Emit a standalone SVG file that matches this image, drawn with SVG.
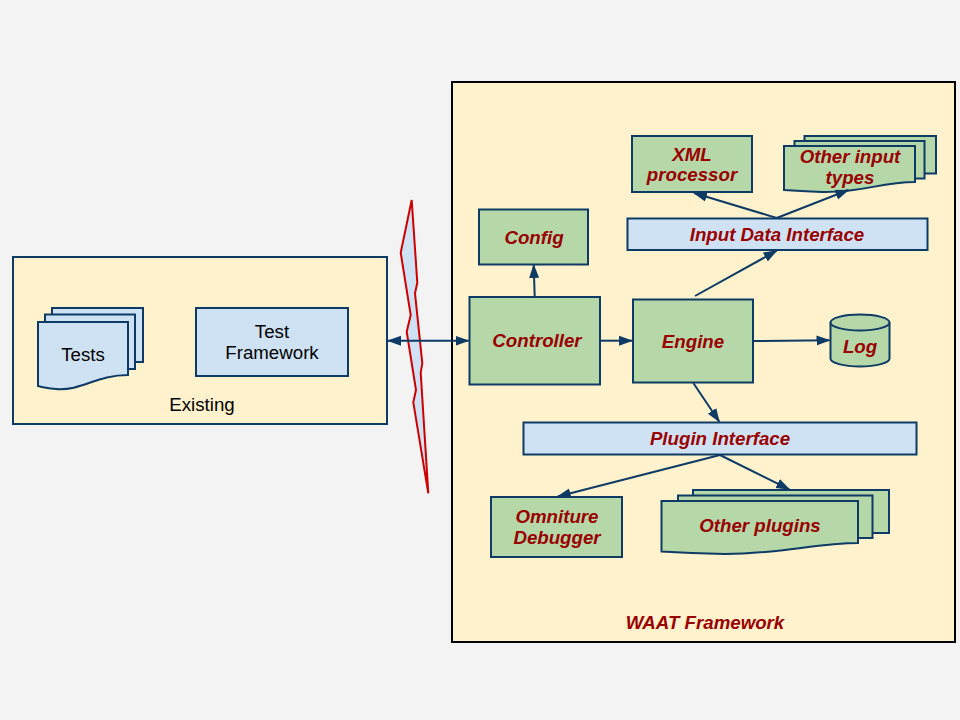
<svg xmlns="http://www.w3.org/2000/svg" width="960" height="720" viewBox="0 0 960 720">
<defs>
<style>
.box{stroke:#0d3b66;stroke-width:2}
.g{fill:#b6d7a8}
.b{fill:#cfe2f3}
.c{fill:#fff2cc}
.t{font-family:"Liberation Sans",Arial,sans-serif;font-size:18.7px;fill:#990000;font-weight:bold;font-style:italic;text-anchor:middle}
.n{font-family:"Liberation Sans",Arial,sans-serif;font-size:18.7px;fill:#000;text-anchor:middle}
.conn line{stroke:#0d3b66;stroke-width:2;fill:none}
</style>
<marker id="ah" markerUnits="userSpaceOnUse" markerWidth="14" markerHeight="12" viewBox="0 0 14 12" refX="13" refY="6" orient="auto-start-reverse">
<path d="M0,1 L14,6 L0,11 Z" fill="#0d3b66"/>
</marker>
</defs>
<rect width="960" height="720" fill="#f3f3f3"/>

<g id="existing">
<rect class="box c" x="13" y="257" width="374" height="167"/>
<text class="n" x="202" y="411">Existing</text>
</g>

<g id="tests">
<rect class="box b" x="52" y="308" width="91" height="54"/>
<rect class="box b" x="45" y="314.5" width="90" height="54.5"/>
<path class="box b" d="M38,322 H128 V375 C96,375 82,391 56,389 Q45,388 38,386 Z"/>
<text class="n" x="83" y="361">Tests</text>
</g>

<g id="test-framework">
<rect class="box b" x="196" y="308" width="152" height="68"/>
<text class="n" x="272" y="338">Test</text>
<text class="n" x="272" y="359">Framework</text>
</g>

<g id="lightning">
<polygon points="411.7,200 400.7,252.7 410.7,315 406.7,331.7 416,390 413.3,402.3 428.3,493.3 420.7,372.7 422.3,363.3 415,293.3 417.3,282.7" fill="#cfe2f3" stroke="#cc0000" stroke-width="2" stroke-linejoin="miter"/>
</g>

<g id="waat">
<rect x="452" y="82" width="503" height="560" fill="#fff2cc" stroke="#000" stroke-width="2"/>
<text class="t" x="705" y="629">WAAT Framework</text>
</g>

<g id="config">
<rect class="box g" x="479" y="209.5" width="109" height="55"/>
<text class="t" x="534" y="244">Config</text>
</g>

<g id="controller">
<rect class="box g" x="469.5" y="297" width="130.5" height="87.5"/>
<text class="t" x="537" y="347">Controller</text>
</g>

<g id="engine">
<rect class="box g" x="633" y="299.5" width="120" height="83"/>
<text class="t" x="693" y="348">Engine</text>
</g>

<g id="xml">
<rect class="box g" x="632" y="136" width="120" height="56"/>
<text class="t" x="692" y="161">XML</text>
<text class="t" x="692" y="181">processor</text>
</g>

<g id="input-data-interface">
<rect class="box b" x="627.5" y="218.5" width="300" height="31.5"/>
<text class="t" x="777" y="241">Input Data Interface</text>
</g>

<g id="other-input">
<rect class="box g" x="804.5" y="136" width="131.5" height="37.5"/>
<rect class="box g" x="794.5" y="141" width="130" height="37.5"/>
<path class="box g" d="M784,146 H915 V182 C880,182 862,193 822,192 Q800,191 784,190 Z"/>
<text class="t" x="850" y="163">Other input</text>
<text class="t" x="850" y="184">types</text>
</g>

<g id="log">
<path class="box g" d="M830.5,322.5 V358.5 A29.5,8 0 0 0 889.5,358.5 V322.5"/>
<ellipse class="box g" cx="860" cy="322.5" rx="29.5" ry="8"/>
<text class="t" x="860" y="353">Log</text>
</g>

<g id="plugin-interface">
<rect class="box b" x="523.5" y="422.5" width="393" height="32"/>
<text class="t" x="720" y="445">Plugin Interface</text>
</g>

<g id="omniture">
<rect class="box g" x="491" y="497" width="131" height="60"/>
<text class="t" x="557" y="523">Omniture</text>
<text class="t" x="557" y="544">Debugger</text>
</g>

<g id="other-plugins">
<rect class="box g" x="693" y="490" width="196" height="43"/>
<rect class="box g" x="678" y="495.5" width="194.5" height="42.5"/>
<path class="box g" d="M661.5,501 H858 V543 C815,543 782,554 725,554 Q690,553 661.5,551.5 Z"/>
<text class="t" x="760" y="532">Other plugins</text>
</g>

<g class="conn" id="connectors">
<line x1="388" y1="340.7" x2="468.5" y2="340.7" marker-start="url(#ah)" marker-end="url(#ah)"/>
<line x1="534.7" y1="297" x2="533.7" y2="265" marker-end="url(#ah)"/>
<line x1="600" y1="340.7" x2="632" y2="340.7" marker-end="url(#ah)"/>
<line x1="753" y1="341" x2="829.5" y2="340.3" marker-end="url(#ah)"/>
<line x1="695" y1="296" x2="776.7" y2="250.7" marker-end="url(#ah)"/>
<line x1="776.7" y1="218" x2="694" y2="193" marker-end="url(#ah)"/>
<line x1="776.7" y1="218" x2="848.3" y2="190" marker-end="url(#ah)"/>
<line x1="693.3" y1="383" x2="719.3" y2="421.7" marker-end="url(#ah)"/>
<line x1="720" y1="455" x2="557.7" y2="496.5" marker-end="url(#ah)"/>
<line x1="720" y1="455" x2="789.3" y2="489.3" marker-end="url(#ah)"/>
</g>
</svg>
